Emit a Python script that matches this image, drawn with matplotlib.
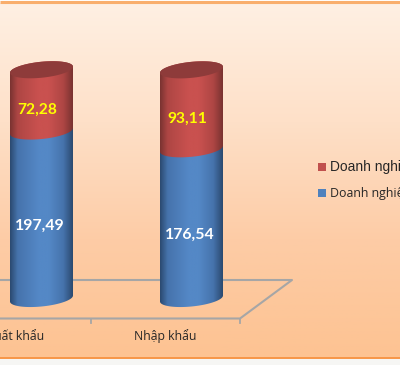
import numpy as np
import matplotlib
matplotlib.use("Agg")
import matplotlib.pyplot as plt
from matplotlib.colors import LinearSegmentedColormap
from matplotlib.patches import Polygon, Rectangle

categories = ["Xuất khẩu", "Nhập khẩu"]
series_blue = [197.49, 176.54]
series_red = [72.28, 93.11]
labels_blue = ["197,49", "176,54"]
labels_red = ["72,28", "93,11"]
legend_red = "Doanh nghiệp trong nước"
legend_blue = "Doanh nghiệp FDI"

W, H = 400, 365
PX_PER_UNIT = 0.848
BASE_PX = 298.5


def val(py):
    return (BASE_PX - py) / PX_PER_UNIT


fig = plt.figure(figsize=(W / 100, H / 100), dpi=100)
ax = fig.add_axes([0, 0, 1, 1])
ax.axis("off")

# background
bg = LinearSegmentedColormap.from_list("bg", ["#FFF0E3", "#FEE0C8", "#FDCCA6", "#FDC392"])
ax.imshow(np.linspace(0, 1, 256)[:, None], cmap=bg, aspect="auto", zorder=0,
          extent=(0, W, val(358), val(3)))
ax.add_patch(Rectangle((0, val(H)), W, val(358.5) - val(H), fc="#F6F6F4", ec="none", zorder=1))
ax.plot([0, W], [val(2), val(2)], color="#F9AE6C", lw=2.2, zorder=1, solid_capstyle="butt")
ax.plot([0, W], [val(358), val(358)], color="#F79646", lw=1.4, zorder=1, solid_capstyle="butt")

# floor
grey = "#A6A6A6"
ax.plot([0, 292, 240, 0], [val(280), val(280), val(318.5), val(318.5)], color=grey, lw=1.5, zorder=2)
for tx in (90.5, 240):
    ax.plot([tx, tx], [val(318.5), val(322.5)], color=grey, lw=1.3, zorder=2)

A = 31.5    # cylinder half-width, px
B = 8.0     # ellipse half-height, px
TILT = 3.0  # rise of the ellipse to the right, px
t = np.linspace(0, 2 * np.pi, 241)


def shade(light, mid, dark):
    return LinearSegmentedColormap.from_list(
        "c", [(0, dark), (0.12, mid), (0.45, light), (0.62, light), (0.85, mid), (1, dark)])


def rim(cx, v, angles):
    return cx + A * np.cos(angles), v + (TILT * np.cos(angles) + B * np.sin(angles)) / PX_PER_UNIT


def segment(cx, v0, v1, cmap):
    x0, y0 = rim(cx, v0, np.linspace(np.pi, 2 * np.pi, 80))  # front rim, left to right
    x1, y1 = rim(cx, v1, np.linspace(0, np.pi, 80))          # back rim, right to left
    poly = Polygon(np.c_[np.r_[x0, x1], np.r_[y0, y1]], closed=True, transform=ax.transData,
                   fc="none", ec="none")
    ax.add_patch(poly)
    im = ax.imshow(np.linspace(0, 1, 128)[None, :], cmap=cmap, aspect="auto", zorder=3,
                   extent=(cx - A, cx + A, v0 - 12 / PX_PER_UNIT, v1 + 12 / PX_PER_UNIT))
    im.set_clip_path(poly)


blue_map = shade("#5488C6", "#4673AC", "#2B4A70")
red_map = shade("#C9514F", "#AE4644", "#7A3331")
centers = [41.5, 191.5]

for cx, blue, red, lb, lr in zip(centers, series_blue, series_red, labels_blue, labels_red):
    segment(cx, 0, blue, blue_map)
    segment(cx, blue, blue + red, red_map)
    top = blue + red
    ex, ey = rim(cx, top, t)
    ax.fill(ex, ey, color="#8E3B3A", lw=0, zorder=4)
    ax.text(cx - 1.5, blue / 2 - 13, lb, color="white", fontsize=11.4, fontweight="bold",
            family="Lato", ha="center", va="center", zorder=5)
    ax.text(cx - 4.5, blue + red / 2 - 11.5, lr, color="#FFFF00", fontsize=11.2, fontweight="bold",
            family="Lato", ha="center", va="center", zorder=5)

for tx, cat in zip([15.5, 165.5], categories):
    ax.text(tx, val(336), cat, color="#262626", fontsize=8.8, family=["Open Sans", "DejaVu Sans"],
            ha="center", va="center", zorder=5)

# legend
for py, color, name, fam, fs in ((167, "#C0504D", legend_red, ["Liberation Sans"], 9.9),
                                 (193, "#4F81BD", legend_blue, ["Open Sans", "DejaVu Sans"], 8.9)):
    ax.add_patch(Rectangle((318, val(py + 4)), 8, 8 / PX_PER_UNIT, fc=color, ec="none", zorder=5))
    ax.text(330, val(py), name, color="#262626", fontsize=fs, family=fam, ha="left", va="center", zorder=5)

ax.set_xlim(0, W)
ax.set_ylim(val(H), val(0))
fig.savefig("out.png", dpi=100)
